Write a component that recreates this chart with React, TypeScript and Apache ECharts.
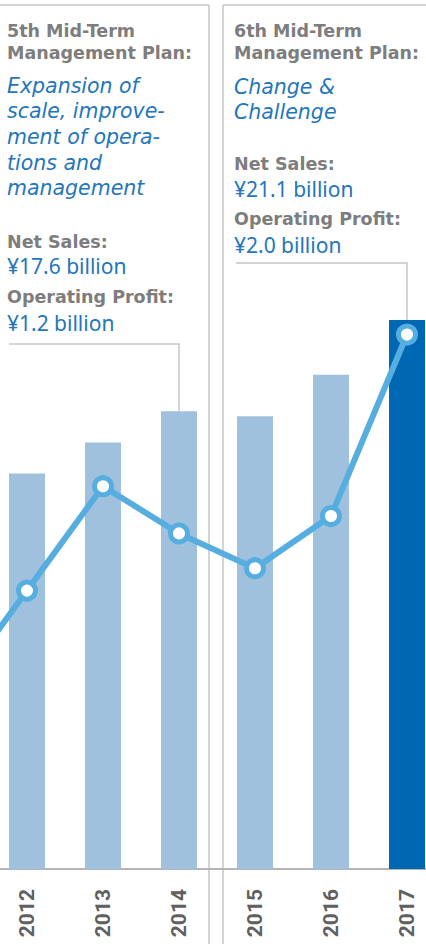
import React, { useEffect, useRef } from 'react';
import * as echarts from 'echarts';

// ---------- data ----------
const years = ['2011', '2012', '2013', '2014', '2015', '2016', '2017'];
const netSales = [null, 15.2, 16.4, 17.6, 17.4, 19.0, 21.1]; // ¥ billion (bars)
const operatingProfit = [0.55, 0.97, 1.39, 1.2, 1.06, 1.27, 2.0]; // ¥ billion (line)
const highlightYear = '2017';

const plan5Title = ['5th Mid-Term', 'Management Plan:'];
const plan5Theme = ['Expansion of', 'scale, improve-', 'ment of opera-', 'tions and', 'management'];
const plan5Stats = ['Net Sales:', '¥17.6 billion', 'Operating Profit:', '¥1.2 billion'];
const plan5EndYear = '2014';

const plan6Title = ['6th Mid-Term', 'Management Plan:'];
const plan6Theme = ['Change &', 'Challenge'];
const plan6Stats = ['Net Sales:', '¥21.1 billion', 'Operating Profit:', '¥2.0 billion'];
const plan6EndYear = '2017';

// ---------- styles ----------
const GRAY = '#7d7d7d';
const BLUE = '#2376bb';
const BAR = '#a0c1dd';
const BAR_DARK = '#0067b3';
const LINE = '#56aee0';
const RULE = '#c6c6c6';

const boldFont = '"DejaVu Sans", sans-serif';
const themeFont = '"DejaVu Sans", sans-serif';
const valueFont = '"Noto Sans", sans-serif';

// the chart canvas extends beyond the visible page so that the 2011 point lies off the left edge
const OX = 87;
const CHART_W = 531.5;

function textEl(text: string, x: number, baseline: number, kind: 'title' | 'theme' | 'value') {
  let fs = 17.5;
  let font = `bold 17.5px ${boldFont}`;
  let fill = GRAY;
  let off = 0.36;
  if (kind === 'theme') {
    fs = 20.5;
    font = `italic 20.5px ${themeFont}`;
    fill = BLUE;
  } else if (kind === 'value') {
    fs = 21;
    font = `21px ${valueFont}`;
    fill = BLUE;
    off = 0.36;
  }
  return {
    type: 'text',
    silent: true,
    z: 10,
    style: {
      text,
      x: x + OX,
      y: baseline - off * fs,
      align: 'left',
      verticalAlign: 'middle',
      fill,
      font,
    },
  };
}

function panelTexts(
  x: number,
  title: string[],
  titleY: number[],
  theme: string[],
  themeY: number[],
  stats: string[],
  statsY: number[]
) {
  const els: any[] = [];
  title.forEach((t, i) => els.push(textEl(t, x, titleY[i], 'title')));
  theme.forEach((t, i) => els.push(textEl(t, x, themeY[i], 'theme')));
  stats.forEach((t, i) => els.push(textEl(t, x, statsY[i], i % 2 === 0 ? 'title' : 'value')));
  return els;
}

function rule(x1: number, y1: number, x2: number, y2: number) {
  return {
    type: 'line',
    silent: true,
    shape: { x1: x1 + OX, y1, x2: x2 + OX, y2 },
    style: { stroke: RULE, lineWidth: 1.5 },
  };
}

export default function App() {
  const ref = useRef<HTMLDivElement>(null);

  useEffect(() => {
    if (!ref.current) return;
    const chart = echarts.init(ref.current, undefined, { renderer: 'svg' });

    const option: any = {
      animation: false,
      backgroundColor: '#ffffff',
      grid: { left: 0, right: 0, top: 86, bottom: 75, containLabel: false },
      xAxis: {
        type: 'category',
        data: years,
        boundaryGap: true,
        axisLine: { show: true, lineStyle: { color: '#b4b4b4', width: 2 } },
        axisTick: { show: false },
        axisLabel: {
          rotate: 90,
          margin: 20,
          color: '#606060',
          fontFamily: 'Roboto, sans-serif',
          fontWeight: 'bold',
          fontSize: 21,
          formatter: (v: string) => (v === years[0] ? '' : v),
        },
        splitLine: { show: false },
      },
      yAxis: [
        { type: 'value', min: 0, max: 30.1, show: false, splitLine: { show: false } },
        { type: 'value', min: -0.15, max: 3.0, show: false, splitLine: { show: false } },
      ],
      series: [
        {
          name: 'Net Sales',
          type: 'bar',
          yAxisIndex: 0,
          barWidth: 36,
          data: netSales.map((v, i) => ({
            value: v,
            itemStyle: { color: years[i] === highlightYear ? BAR_DARK : BAR },
          })),
          z: 2,
        },
        {
          name: 'Operating Profit',
          type: 'line',
          yAxisIndex: 1,
          data: operatingProfit,
          symbol: 'circle',
          symbolSize: 17,
          lineStyle: { color: LINE, width: 6 },
          itemStyle: { color: '#ffffff', borderColor: LINE, borderWidth: 5 },
          z: 5,
        },
      ],
    };
    chart.setOption(option);

    const p5 = chart.convertToPixel({ xAxisIndex: 0, yAxisIndex: 0 }, [plan5EndYear, netSales[years.indexOf(plan5EndYear)]]) as number[];
    const p6 = chart.convertToPixel({ xAxisIndex: 0, yAxisIndex: 0 }, [plan6EndYear, netSales[years.indexOf(plan6EndYear)]]) as number[];

    const graphics: any[] = [
      rule(0, 5, 209, 5),
      rule(209, 5, 209, 944),
      rule(223, 5, 426, 5),
      rule(223, 5, 223, 944),
      {
        type: 'polyline',
        silent: true,
        shape: { points: [[9 + OX, 344], [p5[0], 344], [p5[0], p5[1]]] },
        style: { stroke: RULE, lineWidth: 1.5, fill: 'none' },
      },
      {
        type: 'polyline',
        silent: true,
        shape: { points: [[236 + OX, 263], [p6[0], 263], [p6[0], p6[1]]] },
        style: { stroke: RULE, lineWidth: 1.5, fill: 'none' },
      },
      ...panelTexts(7, plan5Title, [37, 59], plan5Theme, [93, 118, 144, 170, 195], plan5Stats, [248, 274, 303, 330.5]),
      ...panelTexts(234, plan6Title, [37, 59], plan6Theme, [94, 119], plan6Stats, [170, 196.5, 225, 253]),
    ];
    chart.setOption({ graphic: graphics });

    return () => chart.dispose();
  }, []);

  return (
    <div style={{ position: 'absolute', left: 0, top: 0, width: 426, height: 944, overflow: 'hidden', background: '#fff' }}>
      <div
        ref={ref}
        style={{ position: 'absolute', left: -OX, top: 0, width: CHART_W, height: 944 }}
      />
    </div>
  );
}
